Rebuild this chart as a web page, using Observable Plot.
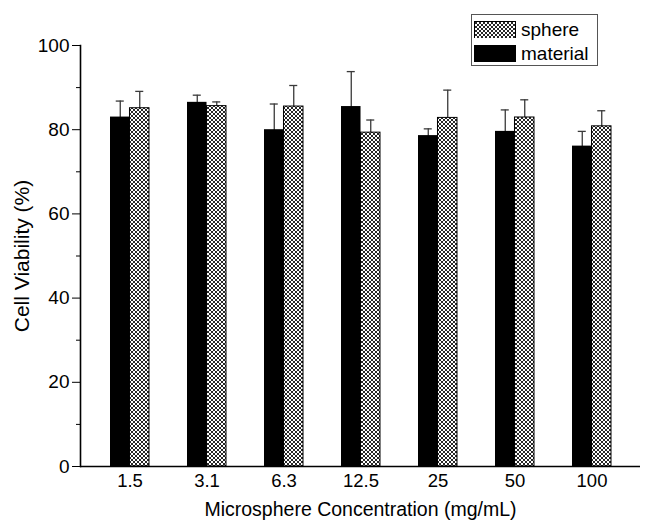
<!DOCTYPE html>
<html>
<head>
<meta charset="utf-8">
<script src="https://cdn.jsdelivr.net/npm/d3@7"></script>
<script src="https://cdn.jsdelivr.net/npm/@observablehq/plot@0.6"></script>
<style>
  html, body { margin: 0; padding: 0; background: white; }
  #wrap { position: relative; width: 648px; height: 520px; font-family: "Liberation Sans", Arial, sans-serif; }
  .legend { position: absolute; left: 471px; top: 14px; width: 127px; height: 52px; border: 1px solid #555; background: white; box-sizing: border-box; }
  .legend .row { position: absolute; left: 2px; display: flex; align-items: center; }
  .legend .sw { width: 42px; height: 17px; box-sizing: border-box; margin-right: 5px; }
  .legend .lab { font-size: 19px; line-height: 19px; color: black; }
</style>
</head>
<body>
<div id="wrap"></div>
<script>
const concentrations = ["1.5", "3.1", "6.3", "12.5", "25", "50", "100"];
const materialValues = [83.0, 86.5, 80.0, 85.5, 78.6, 79.6, 76.1];
const materialErrors = [3.8, 1.7, 6.1, 8.3, 1.6, 5.1, 3.5];
const sphereValues = [85.1, 85.6, 85.5, 79.3, 82.8, 82.9, 80.8];
const sphereErrors = [4.0, 1.0, 5.0, 3.0, 6.6, 4.2, 3.7];
const yTicks = [0, 20, 40, 60, 80, 100];
const yMinorTicks = [10, 30, 50, 70, 90];

const matRows = concentrations.map((c, i) => ({conc: c, value: materialValues[i], err: materialErrors[i]}));
const sphRows = concentrations.map((c, i) => ({conc: c, value: sphereValues[i], err: sphereErrors[i]}));

// layout (style) parameters
const W = 648, H = 520, ML = 80, MR = 8, MT = 45, MB = 54;
const PI = 0.494, PO = 0.383;
const step = (W - ML - MR) / (concentrations.length - PI + 2 * PO);
const bw = step * (1 - PI);
const half = bw / 2;
const q = bw / 4;
const capW = 8;
const capInset = (bw - capW) / 2;
const errColor = "#3a3a3a";

const plot = Plot.plot({
  width: W, height: H,
  marginLeft: ML, marginRight: MR, marginTop: MT, marginBottom: MB,
  style: {fontFamily: "'Liberation Sans', Arial, sans-serif", fontSize: "18px", color: "black", background: "white", overflow: "visible"},
  x: {domain: concentrations, paddingInner: PI, paddingOuter: PO},
  y: {domain: [0, 100]},
  marks: [
    // error bars (behind bars)
    Plot.ruleX(matRows, {x: "conc", y1: d => d.value - d.err, y2: d => d.value + d.err, dx: -q, stroke: errColor, strokeWidth: 1.3}),
    Plot.ruleX(sphRows, {x: "conc", y1: d => d.value - d.err, y2: d => d.value + d.err, dx: q, stroke: errColor, strokeWidth: 1.3}),
    Plot.tickY(matRows, {x: "conc", y: d => d.value + d.err, dx: -q, insetLeft: capInset, insetRight: capInset, stroke: errColor, strokeWidth: 1.3}),
    Plot.tickY(sphRows, {x: "conc", y: d => d.value + d.err, dx: q, insetLeft: capInset, insetRight: capInset, stroke: errColor, strokeWidth: 1.3}),
    Plot.tickY(sphRows, {x: "conc", y: d => d.value - d.err, dx: q, insetLeft: capInset, insetRight: capInset, stroke: errColor, strokeWidth: 1.3}),
    // bars
    Plot.barY(matRows, {x: "conc", y: "value", fill: "black", insetRight: half, insetLeft: 0}),
    Plot.barY(sphRows, {x: "conc", y: "value", fill: "url(#hatch)", stroke: "black", strokeWidth: 1, insetLeft: half, insetRight: 0}),
    // axes
    Plot.axisY({ticks: yTicks, tickSize: 8, tickPadding: 3, label: null, fontSize: 19}),
    Plot.axisY({ticks: yMinorTicks, tickSize: 4, tickFormat: () => "", label: null}),
    Plot.axisY({ticks: [], label: "Cell Viability (%)", labelAnchor: "center", labelOffset: 66, labelArrow: "none", fontSize: 21}),
    Plot.axisX({tickSize: 0, tickPadding: 7, label: null, fontSize: 18.5}),
    Plot.axisX({ticks: [], label: "Microsphere Concentration (mg/mL)", labelAnchor: "center", labelOffset: 49, labelArrow: "none", fontSize: 19.5}),
    Plot.ruleY([0], {strokeWidth: 1.6}),
    Plot.frame({anchor: "left", strokeWidth: 1.6})
  ]
});

// hatch pattern definition
const ns = "http://www.w3.org/2000/svg";
function addPattern(svg) {
  const defs = document.createElementNS(ns, "defs");
  defs.innerHTML = `<pattern id="hatch" patternUnits="userSpaceOnUse" width="4" height="4">
      <rect width="4" height="4" fill="white"/>
      <path d="M-1,1 L1,-1 M0,4 L4,0 M3,5 L5,3" stroke="black" stroke-width="0.85"/>
      <path d="M-1,3 L1,5 M0,0 L4,4 M3,-1 L5,1" stroke="black" stroke-width="0.85"/>
    </pattern>`;
  svg.insertBefore(defs, svg.firstChild);
}
addPattern(plot);

const wrap = document.getElementById("wrap");
wrap.appendChild(plot);

// legend
const legend = document.createElement("div");
legend.className = "legend";
const items = [
  {label: "sphere", fill: "url(#hatch)", top: 5},
  {label: "material", fill: "black", top: 29}
];
for (const it of items) {
  const row = document.createElement("div");
  row.className = "row";
  row.style.top = it.top + "px";
  const sw = document.createElementNS(ns, "svg");
  sw.setAttribute("width", 42);
  sw.setAttribute("height", 18);
  sw.setAttribute("class", "sw");
  sw.innerHTML = `<rect x="0.5" y="0.5" width="41" height="17" fill="${it.fill}" stroke="black" stroke-width="1"/>`;
  row.appendChild(sw);
  const lab = document.createElement("span");
  lab.className = "lab";
  lab.textContent = it.label;
  row.appendChild(lab);
  legend.appendChild(row);
}
wrap.appendChild(legend);
</script>
</body>
</html>
